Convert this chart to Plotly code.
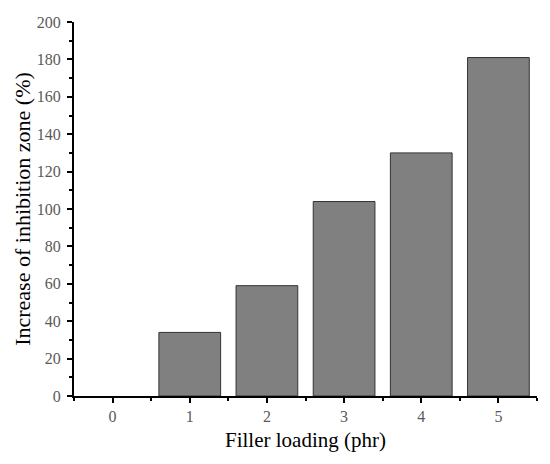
import plotly.graph_objects as go

loading = [0, 1, 2, 3, 4, 5]
increase = [0, 34, 59, 104, 130, 181]

fig = go.Figure(go.Bar(
    x=loading, y=increase, width=0.8,
    marker=dict(color="#808080",
                line=dict(color="#333333", width=[0 if v == 0 else 1 for v in increase])),
))

serif = "Liberation Serif, Times New Roman, serif"
axis_common = dict(
    showline=True, linecolor="black", linewidth=2,
    ticks="outside", tickcolor="black", tickwidth=2, ticklen=5,
    showgrid=False, zeroline=False, mirror=False, automargin=False,
    tickfont=dict(family=serif, size=16, color="#5a5a5a"),
)

fig.update_xaxes(
    range=[-0.5, 5.5], tickmode="array", tickvals=loading, ticktext=[str(v) for v in loading],
    minor=dict(ticks="outside", tickvals=[-0.5, 0.5, 1.5, 2.5, 3.5, 4.5, 5.5], ticklen=3, tickwidth=2, tickcolor="black"),
    title_text="Filler loading (phr)", title_standoff=8,
    title_font=dict(family=serif, size=21, color="black"),
    **axis_common,
)
fig.update_yaxes(
    range=[0, 200], tickmode="linear", tick0=0, dtick=20,
    minor=dict(ticks="outside", dtick=10, ticklen=3, tickwidth=2, tickcolor="black"),
    ticklabelstandoff=3,
    title_text="Increase of inhibition zone (%)", title_standoff=0,
    title_font=dict(family=serif, size=22, color="black"),
    **axis_common,
)

# page body adds an 8px offset; margins compensate so the plot area sits where the reference has it
fig.update_layout(
    width=550, height=464,
    margin=dict(l=66, r=21, t=14, b=76),
    plot_bgcolor="white", paper_bgcolor="white",
    showlegend=False,
)

fig.write_html("out.html")
